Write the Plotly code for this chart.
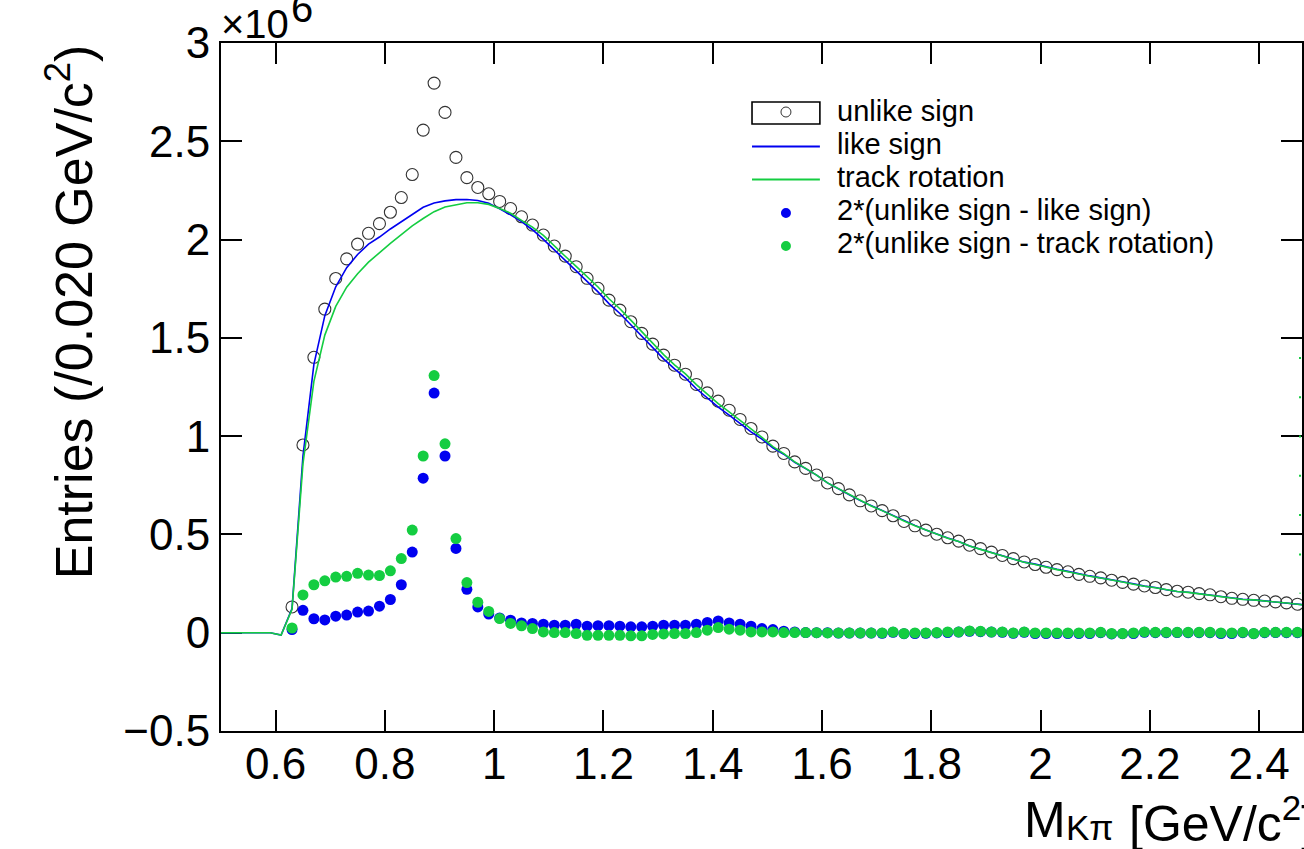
import numpy as np
import plotly.graph_objects as go

# ---------------------------------------------------------------------------
# K-pi invariant mass spectra, 0.020 GeV/c^2 bins, entries in units of 10^6
# ---------------------------------------------------------------------------
mass_points = np.round(np.arange(0.63, 2.4701, 0.02), 2)   # bins with markers
mass_lines = np.round(np.arange(0.49, 2.4901, 0.02), 2)    # bins of the background curves

unlike_sign = [
    0.131, 0.955, 1.401, 1.646, 1.802, 1.902, 1.977, 2.032, 2.081, 2.139,
    2.214, 2.331, 2.557, 2.796, 2.647, 2.418, 2.315, 2.265, 2.233, 2.194,
    2.158, 2.116, 2.074, 2.023, 1.967, 1.916, 1.862, 1.803, 1.752, 1.692,
    1.641, 1.582, 1.523, 1.468, 1.412, 1.361, 1.315, 1.263, 1.220, 1.178,
    1.132, 1.085, 1.039, 0.996, 0.949, 0.912, 0.869, 0.836, 0.802, 0.762,
    0.733, 0.701, 0.671, 0.645, 0.621, 0.595, 0.566, 0.544, 0.522, 0.501,
    0.483, 0.466, 0.445, 0.428, 0.410, 0.393, 0.377, 0.360, 0.347, 0.333,
    0.321, 0.310, 0.297, 0.287, 0.279, 0.267, 0.256, 0.247, 0.238, 0.230,
    0.219, 0.211, 0.206, 0.199, 0.193, 0.183, 0.175, 0.170, 0.165, 0.161,
    0.157, 0.152, 0.145,
]

like_sign = [
    0.0, 0.0, 0.0, 0.0, 0.0, 0.0, -0.012,
    0.123, 0.898, 1.365, 1.613, 1.760, 1.857, 1.924, 1.977, 2.013, 2.054,
    2.092, 2.126, 2.164, 2.186, 2.197, 2.203, 2.204, 2.199, 2.185, 2.156,
    2.126, 2.091, 2.050, 2.001, 1.948, 1.897, 1.840, 1.786, 1.734, 1.674,
    1.624, 1.567, 1.508, 1.451, 1.393, 1.342, 1.296, 1.241, 1.194, 1.148,
    1.107, 1.063, 1.022, 0.985, 0.941, 0.908, 0.867, 0.835, 0.802, 0.762,
    0.734, 0.702, 0.672, 0.646, 0.622, 0.594, 0.568, 0.546, 0.523, 0.501,
    0.482, 0.464, 0.441, 0.425, 0.408, 0.392, 0.378, 0.359, 0.349, 0.335,
    0.323, 0.312, 0.299, 0.289, 0.279, 0.270, 0.258, 0.249, 0.237, 0.230,
    0.219, 0.210, 0.206, 0.199, 0.193, 0.185, 0.177, 0.170, 0.167, 0.161,
    0.156, 0.152, 0.145, 0.140,
]

track_rotation = [
    0.0, 0.0, 0.0, 0.0, 0.0, 0.0, -0.012,
    0.119, 0.859, 1.279, 1.514, 1.660, 1.758, 1.826, 1.885, 1.935, 1.981,
    2.025, 2.070, 2.107, 2.142, 2.166, 2.178, 2.187, 2.187, 2.179, 2.158,
    2.134, 2.098, 2.063, 2.021, 1.966, 1.915, 1.864, 1.810, 1.759, 1.699,
    1.648, 1.590, 1.531, 1.473, 1.415, 1.363, 1.317, 1.262, 1.213, 1.165,
    1.123, 1.078, 1.037, 0.994, 0.947, 0.911, 0.869, 0.836, 0.802, 0.762,
    0.733, 0.701, 0.671, 0.645, 0.621, 0.593, 0.568, 0.544, 0.522, 0.500,
    0.481, 0.464, 0.441, 0.424, 0.408, 0.391, 0.377, 0.358, 0.347, 0.333,
    0.321, 0.310, 0.297, 0.287, 0.278, 0.269, 0.258, 0.247, 0.236, 0.229,
    0.218, 0.210, 0.205, 0.198, 0.192, 0.183, 0.175, 0.169, 0.167, 0.160,
    0.156, 0.151, 0.144, 0.139,
]

diff_like = [
    0.016, 0.114, 0.071, 0.065, 0.084, 0.090, 0.105, 0.110, 0.135, 0.169,
    0.244, 0.410, 0.786, 1.219, 0.899, 0.429, 0.221, 0.131, 0.095, 0.075,
    0.064, 0.050, 0.047, 0.043, 0.038, 0.038, 0.043, 0.033, 0.036, 0.036,
    0.033, 0.030, 0.030, 0.033, 0.038, 0.038, 0.038, 0.043, 0.052, 0.060,
    0.050, 0.043, 0.033, 0.021, 0.016, 0.008, 0.004, 0.001, 0.000, 0.000,
    -0.002, -0.002, -0.002, -0.002, -0.003, 0.002, -0.005, -0.004, -0.003, -0.001,
    0.001, 0.003, 0.007, 0.005, 0.003, 0.002, -0.003, 0.002, -0.004, -0.004,
    -0.004, -0.004, -0.004, -0.004, 0.000, -0.006, -0.005, -0.004, 0.002, 0.000,
    0.000, 0.001, 0.000, 0.000, 0.000, -0.004, -0.004, 0.000, -0.005, 0.000,
    0.001, 0.000, 0.000,
]

diff_rotation = [
    0.024, 0.192, 0.244, 0.264, 0.283, 0.287, 0.302, 0.293, 0.291, 0.315,
    0.377, 0.522, 0.899, 1.308, 0.961, 0.479, 0.255, 0.155, 0.108, 0.072,
    0.047, 0.035, 0.021, 0.004, 0.001, 0.001, -0.004, -0.013, -0.013, -0.013,
    -0.013, -0.016, -0.016, -0.009, -0.006, -0.004, -0.004, 0.001, 0.013, 0.026,
    0.018, 0.013, 0.004, 0.004, 0.004, 0.001, 0.001, 0.001, 0.000, -0.001,
    -0.001, -0.001, -0.001, -0.001, -0.001, 0.004, -0.004, -0.001, -0.001, 0.001,
    0.004, 0.004, 0.009, 0.007, 0.004, 0.004, -0.001, 0.004, -0.001, -0.001,
    -0.001, -0.001, -0.001, -0.001, 0.002, -0.004, -0.004, -0.001, 0.004, 0.002,
    0.002, 0.002, 0.002, 0.002, 0.002, -0.001, -0.001, 0.002, -0.004, 0.002,
    0.002, 0.002, 0.002,
]

x_tick_vals = [0.6, 0.8, 1.0, 1.2, 1.4, 1.6, 1.8, 2.0, 2.2, 2.4]
x_tick_text = ["0.6", "0.8", "1", "1.2", "1.4", "1.6", "1.8", "2", "2.2", "2.4"]
y_tick_vals = [-0.5, 0.0, 0.5, 1.0, 1.5, 2.0, 2.5, 3.0]
y_tick_text = ["\u22120.5", "0", "0.5", "1", "1.5", "2", "2.5", "3"]

# dotted guide at the right edge of the frame
guide_x = 2.4748
guide_y = [1.403, 0.2]

# ---------------------------------------------------------------------------
W, H = 1304, 849
ML, MR, MT, MB = 221, 0, 43, 118
X_RANGE = [0.5, 2.4784]
Y_RANGE = [-0.5, 3.0]

BLUE = "#0000f0"
GREEN = "#14cd41"
CIRCLE = "#333333"
FONT = "Liberation Sans, Arial, Helvetica, sans-serif"


def px_x(px):
    return (px - ML) / (W - ML - MR)


def px_y(py):
    return (H - MB - py) / (H - MT - MB)


fig = go.Figure()

fig.add_trace(go.Scatter(
    x=mass_points, y=unlike_sign, mode="markers", name="unlike sign",
    marker=dict(symbol="circle-open", size=12, color=CIRCLE, line=dict(width=1.1, color=CIRCLE)),
))
fig.add_trace(go.Scatter(
    x=mass_lines, y=like_sign, mode="lines", name="like sign",
    line=dict(color=BLUE, width=1.6),
))
fig.add_trace(go.Scatter(
    x=mass_lines, y=track_rotation, mode="lines", name="track rotation",
    line=dict(color=GREEN, width=1.6),
))
fig.add_trace(go.Scatter(
    x=mass_points, y=diff_like, mode="markers", name="2*(unlike sign - like sign)",
    marker=dict(symbol="circle", size=11, color=BLUE, line=dict(width=0)),
))
fig.add_trace(go.Scatter(
    x=mass_points, y=diff_rotation, mode="markers", name="2*(unlike sign - track rotation)",
    marker=dict(symbol="circle", size=11, color=GREEN, line=dict(width=0)),
))

shapes = [
    dict(type="line", xref="x", yref="y", x0=guide_x, x1=guide_x,
         y0=guide_y[0], y1=guide_y[1], line=dict(color=GREEN, width=2, dash="2px,37.3px")),
]

# legend block
leg_x0, leg_x1 = 753, 821
leg_mid = (leg_x0 + leg_x1) / 2
leg_rows = [111, 144, 177, 210, 243]
leg_labels = ["unlike sign", "like sign", "track rotation",
              "2*(unlike sign - like sign)", "2*(unlike sign - track rotation)"]

shapes.append(dict(type="rect", xref="paper", yref="paper",
                   x0=px_x(leg_x0), x1=px_x(leg_x1), y0=px_y(124), y1=px_y(102),
                   line=dict(color="black", width=1.6)))
shapes.append(dict(type="circle", xref="paper", yref="paper",
                   x0=px_x(leg_mid - 5), x1=px_x(leg_mid + 5),
                   y0=px_y(leg_rows[0] + 6), y1=px_y(leg_rows[0] - 4),
                   line=dict(color=CIRCLE, width=1)))
for row, col in [(146.5, BLUE), (179.5, GREEN)]:
    shapes.append(dict(type="line", xref="paper", yref="paper",
                       x0=px_x(leg_x0), x1=px_x(leg_x1), y0=px_y(row), y1=px_y(row),
                       line=dict(color=col, width=2)))
for row, col in [(213, BLUE), (246, GREEN)]:
    shapes.append(dict(type="circle", xref="paper", yref="paper",
                       x0=px_x(leg_mid - 5), x1=px_x(leg_mid + 5),
                       y0=px_y(row + 5), y1=px_y(row - 5),
                       fillcolor=col, line=dict(width=0)))

annotations = []
for row, label in zip(leg_rows, leg_labels):
    annotations.append(dict(xref="paper", yref="paper", x=px_x(836), y=px_y(row),
                            xanchor="left", yanchor="middle", text=label, showarrow=False,
                            font=dict(family=FONT, size=29, color="black")))

# y-axis title
annotations.append(dict(xref="paper", yref="paper", x=px_x(70), y=px_y(312),
                        xanchor="center", yanchor="middle", textangle=-90,
                        text="Entries (/0.020 GeV/c<sup>2</sup>)", showarrow=False,
                        font=dict(family=FONT, size=52, color="black")))
# x-axis title, drawn in pieces so the subscript sits like the reference typesetting
annotations.append(dict(xref="paper", yref="paper", x=px_x(1023), y=px_y(820),
                        xanchor="left", yanchor="middle", text="M", showarrow=False,
                        font=dict(family=FONT, size=50, color="black")))
annotations.append(dict(xref="paper", yref="paper", x=px_x(1066), y=px_y(827),
                        xanchor="left", yanchor="middle", text="K\u03c0", showarrow=False,
                        font=dict(family=FONT, size=35, color="black")))
annotations.append(dict(xref="paper", yref="paper", x=px_x(1129), y=px_y(820),
                        xanchor="left", yanchor="middle", text="[GeV/c<sup>2</sup>]",
                        showarrow=False, font=dict(family=FONT, size=50, color="black")))
# exponent of the y axis
annotations.append(dict(xref="paper", yref="paper", x=px_x(219), y=px_y(24),
                        xanchor="left", yanchor="middle", text="\u00d710", showarrow=False,
                        font=dict(family=FONT, size=40, color="black")))
annotations.append(dict(xref="paper", yref="paper", x=px_x(289), y=px_y(8),
                        xanchor="left", yanchor="middle", text="6", showarrow=False,
                        font=dict(family=FONT, size=40, color="black")))

axis_common = dict(
    showgrid=False, zeroline=False, showline=True, linecolor="black", linewidth=2,
    mirror="ticks", ticks="inside", ticklen=21, tickwidth=2, tickcolor="black",
    tickfont=dict(family=FONT, size=44, color="black"), tickmode="array",
    layer="below traces",
)

fig.update_layout(
    width=W, height=H,
    margin=dict(l=ML, r=MR, t=MT, b=MB, pad=0),
    paper_bgcolor="white", plot_bgcolor="white",
    showlegend=False,
    xaxis=dict(range=X_RANGE, tickvals=x_tick_vals, ticktext=x_tick_text,
               ticklabelstandoff=-7, **axis_common),
    yaxis=dict(range=Y_RANGE, tickvals=y_tick_vals, ticktext=y_tick_text, **axis_common),
    shapes=shapes,
    annotations=annotations,
)

fig.write_html("out.html")
